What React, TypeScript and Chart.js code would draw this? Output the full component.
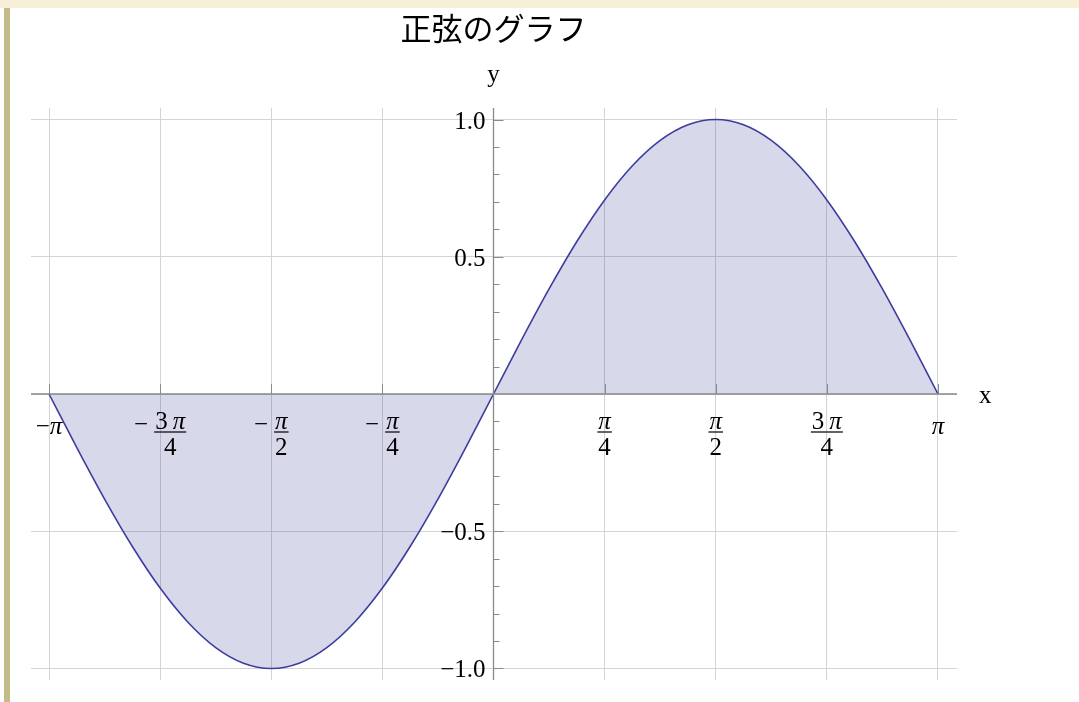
import React, { useEffect, useRef } from "react";
import { Chart, registerables } from "chart.js";

Chart.register(...registerables);

const TITLE = "正弦のグラフ";
const X_AXIS_LABEL = "x";
const Y_AXIS_LABEL = "y";

// sample points of the curve (radians) and their values
const xValues = [
  -3.14159, -2.94524, -2.74889, -2.55254, -2.35619, -2.15984, -1.9635, -1.76715,
  -1.5708, -1.37445, -1.1781, -0.98175, -0.7854, -0.58905, -0.3927, -0.19635,
  0,
  0.19635, 0.3927, 0.58905, 0.7854, 0.98175, 1.1781, 1.37445, 1.5708,
  1.76715, 1.9635, 2.15984, 2.35619, 2.55254, 2.74889, 2.94524, 3.14159,
];
const yValues = [
  0, -0.1951, -0.3827, -0.5556, -0.7071, -0.8315, -0.9239, -0.9808,
  -1, -0.9808, -0.9239, -0.8315, -0.7071, -0.5556, -0.3827, -0.1951,
  0,
  0.1951, 0.3827, 0.5556, 0.7071, 0.8315, 0.9239, 0.9808, 1,
  0.9808, 0.9239, 0.8315, 0.7071, 0.5556, 0.3827, 0.1951, 0,
];

const xTickValues = [-3.14159, -2.35619, -1.5708, -0.7854, 0.7854, 1.5708, 2.35619, 3.14159];
const xTickLabels = ["−π", "−3π/4", "−π/2", "−π/4", "π/4", "π/2", "3π/4", "π"];
const xGridValues = [-3.14159, -2.35619, -1.5708, -0.7854, 0, 0.7854, 1.5708, 2.35619, 3.14159];

const yTickValues = [-1, -0.5, 0.5, 1];
const yTickLabels = ["−1.0", "−0.5", "0.5", "1.0"];
const yMinorTickValues = [-0.9, -0.8, -0.7, -0.6, -0.4, -0.3, -0.2, -0.1, 0.1, 0.2, 0.3, 0.4, 0.6, 0.7, 0.8, 0.9];
const yGridValues = [-1, -0.5, 0, 0.5, 1];

const X_MIN = -3.269;
const X_MAX = 3.276;
const Y_MIN = -1.042;
const Y_MAX = 1.042;

const SERIF = '"Liberation Serif", "Times New Roman", serif';
const FONT_SIZE = 25;

function drawMathText(ctx: CanvasRenderingContext2D, text: string, x: number, y: number) {
  let cx = x;
  for (const ch of text) {
    ctx.font = ch === "π" ? `italic ${FONT_SIZE}px ${SERIF}` : `${FONT_SIZE}px ${SERIF}`;
    ctx.fillText(ch, cx, y);
    cx += ctx.measureText(ch).width;
  }
}
function measureMathText(ctx: CanvasRenderingContext2D, text: string) {
  let w = 0;
  for (const ch of text) {
    ctx.font = ch === "π" ? `italic ${FONT_SIZE}px ${SERIF}` : `${FONT_SIZE}px ${SERIF}`;
    w += ctx.measureText(ch).width;
  }
  return w;
}

const axesPlugin = {
  id: "mathAxes",
  afterDatasetsDraw(chart: any) {
    const ctx: CanvasRenderingContext2D = chart.ctx;
    const xs = chart.scales.x;
    const ys = chart.scales.y;
    const area = chart.chartArea;
    const x0 = xs.getPixelForValue(0);
    const y0 = ys.getPixelForValue(0);
    ctx.save();
    ctx.strokeStyle = "#8a8a8a";
    ctx.lineWidth = 1.3;
    ctx.beginPath();
    ctx.moveTo(area.left, y0);
    ctx.lineTo(area.right, y0);
    ctx.moveTo(x0, area.top);
    ctx.lineTo(x0, area.bottom);
    ctx.stroke();
    ctx.lineWidth = 1;
    ctx.beginPath();
    yTickValues.forEach((v) => {
      const p = Math.round(ys.getPixelForValue(v)) + 0.5;
      ctx.moveTo(x0, p);
      ctx.lineTo(x0 + 10, p);
    });
    yMinorTickValues.forEach((v) => {
      const p = Math.round(ys.getPixelForValue(v)) + 0.5;
      ctx.moveTo(x0, p);
      ctx.lineTo(x0 + 6, p);
    });
    xTickValues.forEach((v) => {
      const p = Math.round(xs.getPixelForValue(v)) + 0.5;
      ctx.moveTo(p, y0);
      ctx.lineTo(p, y0 - 10);
    });
    ctx.stroke();

    ctx.fillStyle = "#000";
    ctx.textBaseline = "alphabetic";
    ctx.textAlign = "right";
    ctx.font = `${FONT_SIZE}px ${SERIF}`;
    yTickValues.forEach((v, i) => {
      const p = ys.getPixelForValue(v);
      ctx.fillText(yTickLabels[i], x0 - 8, p + 9);
    });

    ctx.textAlign = "left";
    xTickValues.forEach((v, i) => {
      const cx = xs.getPixelForValue(v);
      let label = xTickLabels[i];
      let neg = false;
      if (label.startsWith("−")) {
        neg = true;
        label = label.slice(1);
      }
      ctx.font = `${FONT_SIZE}px ${SERIF}`;
      const minusW = ctx.measureText("−").width;
      if (label.includes("/")) {
        const [numRaw, den] = label.split("/");
        const num = numRaw.replace(/(\d)π/, "$1\u2009π");
        const numW = measureMathText(ctx, num);
        const denW = measureMathText(ctx, den);
        const fracW = Math.max(numW, denW) + 2;
        const gap = 6;
        const total = neg ? minusW + gap + fracW : fracW;
        let sx = cx - total / 2;
        const numBase = y0 + 35;
        const barY = y0 + 38;
        const denBase = y0 + 61;
        if (neg) {
          ctx.font = `${FONT_SIZE}px ${SERIF}`;
          ctx.fillText("−", sx, y0 + 37.5);
          sx += minusW + gap;
        }
        drawMathText(ctx, num, sx + (fracW - numW) / 2, numBase);
        drawMathText(ctx, den, sx + (fracW - denW) / 2, denBase);
        ctx.fillRect(sx, barY - 0.6, fracW, 1.2);
      } else {
        const full = (neg ? "−" : "") + label;
        const w = measureMathText(ctx, full);
        drawMathText(ctx, full, cx - w / 2, y0 + 40);
      }
    });

    ctx.font = `${FONT_SIZE}px ${SERIF}`;
    ctx.textAlign = "center";
    ctx.fillText(Y_AXIS_LABEL, x0, area.top - 26);
    ctx.textAlign = "left";
    ctx.fillText(X_AXIS_LABEL, area.right + 22, y0 + 9);

    ctx.font = `31px "Noto Sans CJK JP", "Noto Sans", sans-serif`;
    ctx.textAlign = "center";
    ctx.textBaseline = "middle";
    ctx.fillText(TITLE, x0, 28);
    ctx.restore();
  },
};

export default function App() {
  const ref = useRef<HTMLCanvasElement | null>(null);
  useEffect(() => {
    if (!ref.current) return;
    const chart = new Chart(ref.current, {
      type: "line",
      data: {
        datasets: [
          {
            data: xValues.map((x, i) => ({ x, y: yValues[i] })),
            borderColor: "#3d3d9e",
            borderWidth: 1.6,
            backgroundColor: "rgba(61,61,153,0.2)",
            fill: "origin",
            pointRadius: 0,
            cubicInterpolationMode: "monotone",
          },
        ],
      },
      options: {
        animation: false,
        responsive: false,
        maintainAspectRatio: false,
        devicePixelRatio: 1,
        events: [],
        layout: { padding: { left: 31, right: 122, top: 108, bottom: 22 } },
        plugins: { legend: { display: false }, title: { display: false }, tooltip: { enabled: false } },
        scales: {
          x: {
            type: "linear",
            min: X_MIN,
            max: X_MAX,
            afterBuildTicks: (s: any) => {
              s.ticks = xGridValues.map((v) => ({ value: v }));
            },
            ticks: { display: false },
            grid: { color: "#d4d4d4", lineWidth: 1, drawTicks: false },
            border: { display: false },
          },
          y: {
            type: "linear",
            min: Y_MIN,
            max: Y_MAX,
            afterBuildTicks: (s: any) => {
              s.ticks = yGridValues.map((v) => ({ value: v }));
            },
            ticks: { display: false },
            grid: { color: "#d4d4d4", lineWidth: 1, drawTicks: false },
            border: { display: false },
          },
        },
      },
      plugins: [axesPlugin],
    } as any);
    return () => chart.destroy();
  }, []);

  return (
    <div style={{ position: "fixed", left: 0, top: 0, width: 1079, height: 702, background: "#fff", overflow: "hidden" }}>
      <div style={{ position: "absolute", left: 0, top: 0, width: 1079, height: 8, background: "#f7efd8" }} />
      <div style={{ position: "absolute", left: 4, top: 8, width: 6, height: 694, background: "#c4bc86" }} />
      <canvas ref={ref} width={1079} height={702} style={{ position: "absolute", left: 0, top: 0, width: 1079, height: 702 }} />
    </div>
  );
}
